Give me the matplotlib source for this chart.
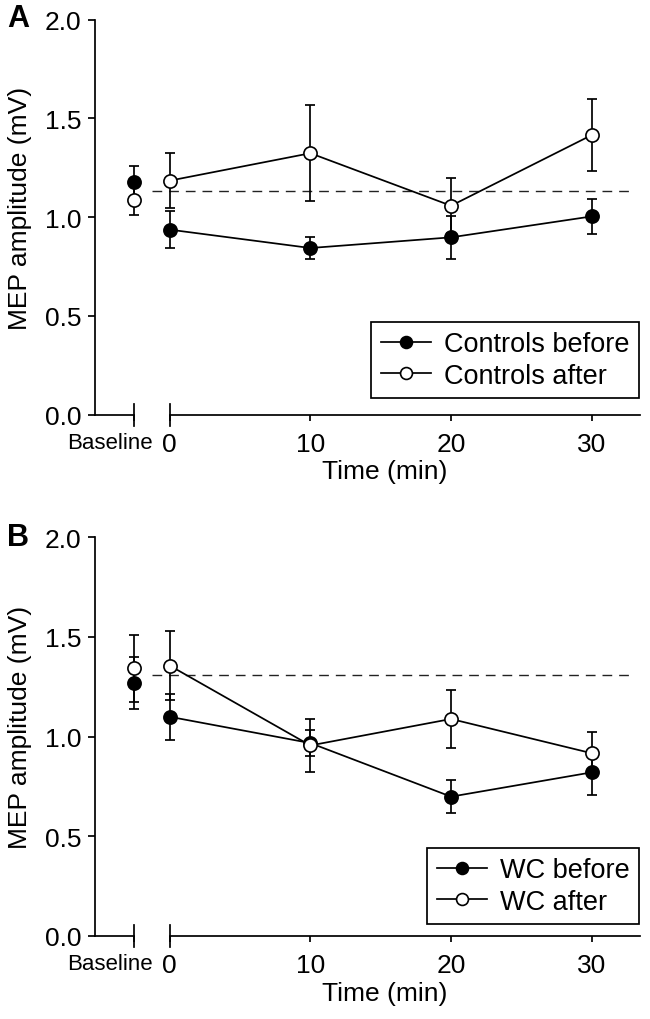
import matplotlib
matplotlib.use('Agg')
import matplotlib.pyplot as plt
from matplotlib import font_manager

plt.rcParams['font.family'] = ['Liberation Sans', 'DejaVu Sans']

# ---------------- data ----------------
time_points = [0, 10, 20, 30]
tick_labels = ['Baseline', '0', '10', '20', '30']
y_ticks = [0.0, 0.5, 1.0, 1.5, 2.0]

# Panel A: controls
ctrl_before_base = 1.180
ctrl_before_base_err = 0.081
ctrl_after_base = 1.087
ctrl_after_base_err = 0.074
ctrl_before = [0.937, 0.844, 0.898, 1.004]
ctrl_before_err = [0.094, 0.055, 0.108, 0.090]
ctrl_after = [1.185, 1.324, 1.058, 1.416]
ctrl_after_err = [0.139, 0.243, 0.140, 0.180]
ctrl_ref = 1.134

# Panel B: WC
wc_before_base = 1.267
wc_before_base_err = 0.130
wc_after_base = 1.342
wc_after_base_err = 0.168
wc_before = [1.099, 0.967, 0.698, 0.820]
wc_before_err = [0.115, 0.067, 0.084, 0.112]
wc_after = [1.356, 0.955, 1.088, 0.916]
wc_after_err = [0.175, 0.133, 0.145, 0.108]
wc_ref = 1.309

# ---------------- layout ----------------
BASE_X = -2.54
XLIM = (-5.31, 33.43)
FS = 19
LFS = 19.5
LW = 1.25

names = [f.name for f in font_manager.fontManager.ttflist]
if 'Liberation Sans Narrow' in names:
    base_font = dict(family='Liberation Sans Narrow', fontsize=FS)
else:
    base_font = dict(family='Liberation Sans', fontsize=16)

fig = plt.figure(figsize=(6.5, 10.2), dpi=100)
axA = fig.add_axes([95 / 650, 1 - 415.7 / 1020, 545 / 650, 395 / 1020])
axB = fig.add_axes([95 / 650, 1 - 936.7 / 1020, 545 / 650, 398.4 / 1020])


def draw_panel(ax, b_base, b_base_err, a_base, a_base_err,
               before, before_err, after, after_err, ref, lab_b, lab_a,
               leg_y):
    ax.set_xlim(*XLIM)
    ax.set_ylim(0, 2.0)
    for s in ['top', 'right', 'bottom']:
        ax.spines[s].set_visible(False)
    ax.spines['left'].set_linewidth(LW)

    # broken x-axis
    ax.plot([XLIM[0], BASE_X], [0, 0], color='black', lw=LW, clip_on=False, zorder=5)
    ax.plot([0, XLIM[1]], [0, 0], color='black', lw=LW, clip_on=False, zorder=5)
    for xb in [BASE_X, 0]:
        ax.plot([xb, xb], [-0.056, 0.056], color='black', lw=LW, clip_on=False, zorder=5)

    ax.set_yticks(y_ticks)
    ax.set_yticklabels([f'{v:.1f}' for v in y_ticks], fontsize=FS)
    ax.tick_params(axis='y', length=5, width=LW, pad=5)

    ax.set_xticks([BASE_X] + time_points)
    ax.set_xticklabels([''] + tick_labels[1:], fontsize=FS)
    ax.tick_params(axis='x', length=4.3, width=LW, pad=8)
    ax.annotate(tick_labels[0], xy=(BASE_X, 0), xycoords=('data', 'axes fraction'),
                xytext=(-17.3, -12.3), textcoords='offset points',
                ha='center', va='top', **base_font)

    # reference line
    ax.axhline(ref, xmin=0.105, xmax=0.985, color='#222222', lw=1.0,
               dashes=(7, 5), zorder=1)

    # error bars
    ek = dict(fmt='none', ecolor='black', elinewidth=LW, capsize=3.6,
              capthick=LW, zorder=2)
    ax.errorbar([BASE_X], [b_base], yerr=[b_base_err], **ek)
    ax.errorbar([BASE_X], [a_base], yerr=[a_base_err], **ek)
    ax.errorbar(time_points, before, yerr=before_err, **ek)
    ax.errorbar(time_points, after, yerr=after_err, **ek)

    mk = dict(marker='o', markersize=9.5, markeredgecolor='black',
              markeredgewidth=1.2, color='black', lw=LW)
    hb, = ax.plot(time_points, before, markerfacecolor='black', zorder=3,
                  label=lab_b, **mk)
    ax.plot([BASE_X], [b_base], markerfacecolor='black', zorder=3, **mk)
    ha, = ax.plot(time_points, after, markerfacecolor='white', zorder=4,
                  label=lab_a, **mk)
    ax.plot([BASE_X], [a_base], markerfacecolor='white', zorder=4, **mk)

    leg = ax.legend(handles=[hb, ha], loc='lower right',
                    bbox_to_anchor=(0.998, leg_y), fontsize=LFS,
                    frameon=True, fancybox=False, framealpha=1,
                    edgecolor='black', borderpad=0.35, labelspacing=0.2,
                    handlelength=1.85, handletextpad=0.48, borderaxespad=0,
                    markerscale=0.9)
    leg.get_frame().set_linewidth(LW)

    ax.text(0.532, -0.113, 'Time (min)', transform=ax.transAxes,
            ha='center', va='top', fontsize=FS)
    ax.text(-0.1376, 0.525, 'MEP amplitude (mV)', transform=ax.transAxes,
            rotation=90, ha='center', va='center', fontsize=FS)


draw_panel(axA, ctrl_before_base, ctrl_before_base_err, ctrl_after_base,
           ctrl_after_base_err, ctrl_before, ctrl_before_err, ctrl_after,
           ctrl_after_err, ctrl_ref, 'Controls before', 'Controls after',
           0.042)
draw_panel(axB, wc_before_base, wc_before_base_err, wc_after_base,
           wc_after_base_err, wc_before, wc_before_err, wc_after,
           wc_after_err, wc_ref, 'WC before', 'WC after', 0.029)

fig.text(18 / 650, 1 - 19 / 1020, 'A', fontsize=22, fontweight='bold',
         ha='center', va='center')
fig.text(18 / 650, 1 - 538 / 1020, 'B', fontsize=22, fontweight='bold',
         ha='center', va='center')

fig.savefig('out.png', dpi=100)
